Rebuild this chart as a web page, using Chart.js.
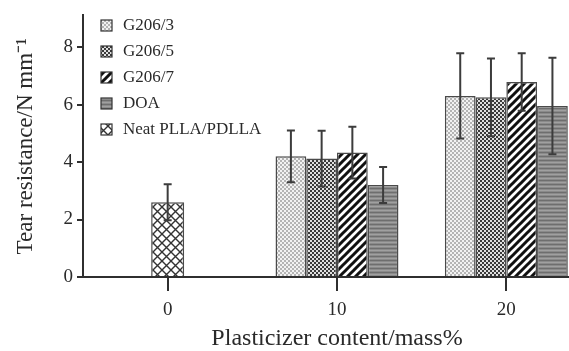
<!DOCTYPE html>
<html lang="en">

<head>
    <meta charset="UTF-8">
    <title>Tear resistance</title>
    <script src="https://cdn.jsdelivr.net/npm/chart.js@4.4.1/dist/chart.umd.min.js"></script>
    <style>
        html, body { margin: 0; padding: 0; background: #fff; overflow: hidden; }
        .chart-box { width: 600px; height: 351px; }
    </style>
</head>

<body>
    <div class="chart-box">
        <canvas id="chart" width="600" height="351"></canvas>
    </div>

    <script>
        // Data
        const categories = ['0', '10', '20'];
        const yTicks = [0, 2, 4, 6, 8];

        const g206_3 = [null, 4.2, 6.3];
        const g206_3Err = [null, 0.9, 1.48];
        const g206_5 = [null, 4.12, 6.25];
        const g206_5Err = [null, 0.97, 1.35];
        const g206_7 = [null, 4.33, 6.78];
        const g206_7Err = [null, 0.9, 1.0];
        const doa = [null, 3.2, 5.95];
        const doaErr = [null, 0.63, 1.68];
        const neat = [2.6, null, null];
        const neatErr = [0.63, null, null];

        const FONT = '"Liberation Serif", "Times New Roman", serif';
        const INK = '#2a2a2a';

        // Fill patterns
        function makePattern(size, draw) {
            const c = document.createElement('canvas');
            c.width = size;
            c.height = size;
            const g = c.getContext('2d');
            draw(g, size);
            return g.createPattern(c, 'repeat');
        }

        function checker(bg, fg) {
            return makePattern(4, (g) => {
                g.fillStyle = bg;
                g.fillRect(0, 0, 4, 4);
                g.fillStyle = fg;
                g.fillRect(0, 0, 2, 2);
                g.fillRect(2, 2, 2, 2);
            });
        }

        const patLight = checker('#f2f2f2', '#b4b4b4');
        const patDark = checker('#e0e0e0', '#3a3a3a');

        const patStripe = makePattern(8, (g, s) => {
            g.fillStyle = '#fff';
            g.fillRect(0, 0, s, s);
            g.strokeStyle = '#111';
            g.lineWidth = 3;
            g.beginPath();
            g.moveTo(-4, 4); g.lineTo(4, -4);
            g.moveTo(0, s); g.lineTo(s, 0);
            g.moveTo(4, s + 4); g.lineTo(s + 4, 4);
            g.stroke();
        });

        const patLines = makePattern(4, (g) => {
            g.fillStyle = '#8a8a8a';
            g.fillRect(0, 0, 4, 4);
            g.fillStyle = '#6e6e6e';
            g.fillRect(0, 0, 4, 1);
            g.fillStyle = '#a0a0a0';
            g.fillRect(0, 2, 4, 1);
        });

        const patCross = makePattern(9, (g, s) => {
            g.fillStyle = '#fff';
            g.fillRect(0, 0, s, s);
            g.strokeStyle = '#333';
            g.lineWidth = 1.4;
            g.beginPath();
            g.moveTo(0, 0); g.lineTo(s, s);
            g.moveTo(0, s); g.lineTo(s, 0);
            g.stroke();
        });

        const errors = [g206_3Err, g206_5Err, g206_7Err, doaErr, neatErr];

        // Error bars drawn on top of the bars
        const errorBars = {
            id: 'errorBars',
            afterDatasetsDraw(chart) {
                const ctx = chart.ctx;
                const y = chart.scales.y;
                ctx.save();
                ctx.strokeStyle = '#3c3c3c';
                ctx.lineWidth = 2;
                chart.data.datasets.forEach((ds, i) => {
                    const meta = chart.getDatasetMeta(i);
                    meta.data.forEach((bar, j) => {
                        const v = ds.data[j];
                        const e = errors[i][j];
                        if (v === null || e === null) return;
                        const top = y.getPixelForValue(v + e);
                        const bot = y.getPixelForValue(v - e);
                        ctx.beginPath();
                        ctx.moveTo(bar.x, top); ctx.lineTo(bar.x, bot);
                        ctx.moveTo(bar.x - 4, top); ctx.lineTo(bar.x + 4, top);
                        ctx.moveTo(bar.x - 4, bot); ctx.lineTo(bar.x + 4, bot);
                        ctx.stroke();
                    });
                });
                ctx.restore();
            }
        };

        // Vertical legend inside the plot, top left
        const sideLegend = {
            id: 'sideLegend',
            afterDraw(chart) {
                const ctx = chart.ctx;
                ctx.save();
                ctx.font = '17px ' + FONT;
                ctx.textBaseline = 'middle';
                chart.data.datasets.forEach((ds, i) => {
                    const cy = 26 + i * 26;
                    ctx.fillStyle = ds.backgroundColor;
                    ctx.fillRect(101, cy - 6, 11, 11);
                    ctx.strokeStyle = '#333';
                    ctx.lineWidth = 1.2;
                    ctx.strokeRect(101, cy - 6, 11, 11);
                    ctx.fillStyle = INK;
                    ctx.fillText(ds.label, 123, cy);
                });
                ctx.restore();
            }
        };

        function bar(label, data, fill) {
            return {
                label: label,
                data: data,
                backgroundColor: fill,
                borderColor: '#4a4a4a',
                borderWidth: 1.5,
                skipNull: true,
                maxBarThickness: 33
            };
        }

        new Chart(document.getElementById('chart'), {
            type: 'bar',
            data: {
                labels: categories,
                datasets: [
                    bar('G206/3', g206_3, patLight),
                    bar('G206/5', g206_5, patDark),
                    bar('G206/7', g206_7, patStripe),
                    bar('DOA', doa, patLines),
                    bar('Neat PLLA/PDLLA', neat, patCross)
                ]
            },
            options: {
                responsive: false,
                animation: false,
                layout: { padding: { left: 0, right: 9, top: 10, bottom: 0 } },
                datasets: {
                    bar: { categoryPercentage: 0.726, barPercentage: 1 }
                },
                plugins: {
                    legend: { display: false },
                    tooltip: { enabled: false }
                },
                scales: {
                    x: {
                        afterFit: (s) => { s.height = 74; },
                        grid: {
                            offset: false,
                            drawOnChartArea: false,
                            drawTicks: true,
                            tickLength: 14,
                            color: '#2f2f2f',
                            lineWidth: 2
                        },
                        border: { color: '#2f2f2f', width: 2 },
                        ticks: {
                            color: INK,
                            padding: 8,
                            font: { family: FONT, size: 19 }
                        },
                        title: {
                            display: true,
                            text: 'Plasticizer content/mass%',
                            color: INK,
                            padding: { top: 4, bottom: 0 },
                            font: { family: FONT, size: 24, lineHeight: 1 }
                        }
                    },
                    y: {
                        min: 0,
                        max: 9.1,
                        afterFit: (s) => { s.width = 83; },
                        afterBuildTicks: (s) => { s.ticks = yTicks.map(v => ({ value: v })); },
                        grid: {
                            drawOnChartArea: false,
                            drawTicks: true,
                            tickLength: 6,
                            color: '#2f2f2f',
                            lineWidth: 2
                        },
                        border: { color: '#2f2f2f', width: 2 },
                        ticks: {
                            color: INK,
                            padding: 4,
                            font: { family: FONT, size: 19 }
                        },
                        title: {
                            display: true,
                            text: 'Tear resistance/N mm\u207B\u00B9',
                            color: INK,
                            padding: { top: 14, bottom: 0 },
                            font: { family: FONT, size: 23, lineHeight: 1 }
                        }
                    }
                }
            },
            plugins: [errorBars, sideLegend]
        });
    </script>
</body>

</html>
